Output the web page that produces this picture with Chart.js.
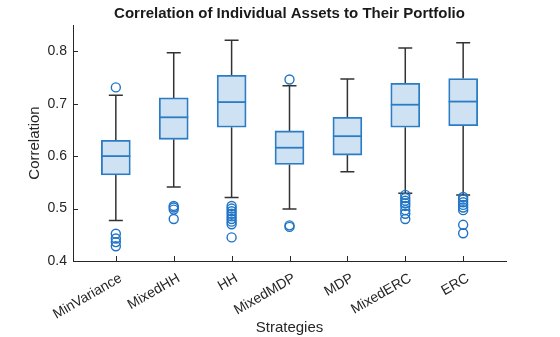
<!DOCTYPE html>
<html>
<head>
<meta charset="utf-8">
<script src="https://cdn.jsdelivr.net/npm/chart.js@4.4.1/dist/chart.umd.min.js"></script>
<style>
  html, body { margin: 0; padding: 0; background: #fff; }
</style>
</head>
<body>
<canvas id="boxChart" width="560" height="337"></canvas>
<script>
// ---------- DATA ----------
const strategies  = ["MinVariance", "MixedHH", "HH", "MixedMDP", "MDP", "MixedERC", "ERC"];
const whiskerLow  = [0.477, 0.541, 0.521, 0.499, 0.570, 0.529, 0.526];
const q1          = [0.564, 0.632, 0.655, 0.584, 0.602, 0.655, 0.658];
const medians     = [0.600, 0.674, 0.703, 0.616, 0.638, 0.698, 0.704];
const q3          = [0.630, 0.711, 0.754, 0.648, 0.674, 0.739, 0.748];
const whiskerHigh = [0.716, 0.797, 0.821, 0.734, 0.747, 0.806, 0.816];
const outliers = [
  [0.731, 0.452, 0.443, 0.436, 0.428],
  [0.505, 0.502, 0.498, 0.480],
  [0.505, 0.500, 0.495, 0.490, 0.485, 0.480, 0.475, 0.470, 0.445],
  [0.746, 0.468, 0.465],
  [],
  [0.526, 0.520, 0.515, 0.510, 0.505, 0.497, 0.490, 0.480],
  [0.522, 0.517, 0.512, 0.507, 0.502, 0.497, 0.469, 0.453]
];
const yTicks = [0.4, 0.5, 0.6, 0.7, 0.8];

const EDGE = "#2b7cc4";
const FILL = "#cfe2f3";
const WHISK = "#333333";
const AXIS = "#262626";
const FONT = "'Liberation Sans', Arial, sans-serif";

const boxData = strategies.map((_, i) => ({ x: i + 1, y: [q1[i], q3[i]] }));
const outlierData = [];
outliers.forEach((list, i) => {
  list.forEach(v => outlierData.push({ x: i + 1, y: v }));
});

// whiskers, caps, medians and inner ticks, placed through the chart scales
const boxExtras = {
  id: "boxExtras",
  beforeDatasetsDraw(chart) {
    const { ctx, scales: { x, y } } = chart;
    ctx.save();
    ctx.strokeStyle = WHISK;
    ctx.lineWidth = 1.5;
    strategies.forEach((_, i) => {
      const cx = x.getPixelForValue(i + 1);
      const half = 7;
      ctx.beginPath();
      ctx.moveTo(cx, y.getPixelForValue(q3[i]));
      ctx.lineTo(cx, y.getPixelForValue(whiskerHigh[i]));
      ctx.moveTo(cx, y.getPixelForValue(q1[i]));
      ctx.lineTo(cx, y.getPixelForValue(whiskerLow[i]));
      const yh = y.getPixelForValue(whiskerHigh[i]);
      const yl = y.getPixelForValue(whiskerLow[i]);
      ctx.moveTo(cx - half, yh); ctx.lineTo(cx + half, yh);
      ctx.moveTo(cx - half, yl); ctx.lineTo(cx + half, yl);
      ctx.stroke();
    });
    ctx.restore();
  },
  afterDatasetsDraw(chart) {
    const { ctx, scales: { x, y } } = chart;
    ctx.save();
    ctx.strokeStyle = EDGE;
    ctx.lineWidth = 1.8;
    strategies.forEach((_, i) => {
      const cx = x.getPixelForValue(i + 1);
      const ym = y.getPixelForValue(medians[i]);
      ctx.beginPath();
      ctx.moveTo(cx - 14.5, ym);
      ctx.lineTo(cx + 14.5, ym);
      ctx.stroke();
    });
    // inward tick marks
    ctx.strokeStyle = AXIS;
    ctx.lineWidth = 1;
    const left = chart.chartArea.left, bottom = chart.chartArea.bottom;
    yTicks.forEach(v => {
      const py = Math.round(y.getPixelForValue(v)) + 0.5;
      ctx.beginPath();
      ctx.moveTo(left, py); ctx.lineTo(left + 5, py);
      ctx.stroke();
    });
    strategies.forEach((_, i) => {
      const px = Math.round(x.getPixelForValue(i + 1)) + 0.5;
      ctx.beginPath();
      ctx.moveTo(px, bottom); ctx.lineTo(px, bottom - 5);
      ctx.stroke();
    });
    ctx.restore();
  }
};

new Chart(document.getElementById("boxChart"), {
  type: "bar",
  data: {
    datasets: [
      {
        type: "bar",
        data: boxData,
        backgroundColor: FILL,
        borderColor: EDGE,
        borderWidth: 1.8,
        borderSkipped: false,
        barThickness: 29,
        order: 2
      },
      {
        type: "scatter",
        data: outlierData,
        pointStyle: "circle",
        pointRadius: 4.5,
        pointBorderWidth: 1.4,
        pointBorderColor: "#1f74c6",
        pointBackgroundColor: "rgba(0,0,0,0)",
        order: 1
      }
    ]
  },
  options: {
    responsive: false,
    animation: false,
    layout: { padding: { left: 0, right: 54, top: 0, bottom: 0 } },
    plugins: {
      legend: { display: false },
      tooltip: { enabled: false },
      title: {
        display: true,
        fullSize: false,
        text: "Correlation of Individual Assets to Their Portfolio",
        color: "#1a1a1a",
        font: { family: FONT, size: 15, weight: "bold" },
        padding: { top: 5, bottom: 2 }
      }
    },
    scales: {
      x: {
        type: "linear",
        offset: false,
        min: 0.26,
        max: 7.74,
        afterBuildTicks: s => { s.ticks = strategies.map((_, i) => ({ value: i + 1 })); },
        afterFit: s => { s.height = 76; },
        grid: { display: true, drawOnChartArea: false, drawTicks: false, offset: false },
        border: { display: true, color: AXIS, width: 1 },
        ticks: {
          autoSkip: false,
          maxRotation: 30,
          minRotation: 30,
          padding: 9,
          labelOffset: 5,
          color: AXIS,
          font: { family: FONT, size: 14 },
          callback: v => strategies[v - 1]
        },
        title: {
          display: true,
          text: "Strategies",
          color: AXIS,
          font: { family: FONT, size: 15 },
          padding: { top: 0, bottom: 0 }
        }
      },
      y: {
        min: 0.4,
        max: 0.85,
        afterBuildTicks: s => { s.ticks = yTicks.map(v => ({ value: v })); },
        afterFit: s => { s.width = 73; },
        grid: { display: true, drawOnChartArea: false, drawTicks: false },
        border: { display: true, color: AXIS, width: 1 },
        ticks: {
          padding: 6,
          color: AXIS,
          font: { family: FONT, size: 14 },
          callback: v => v.toFixed(1)
        },
        title: {
          display: true,
          text: "Correlation",
          color: AXIS,
          font: { family: FONT, size: 15 },
          padding: { top: 26, bottom: 0 }
        }
      }
    }
  },
  plugins: [boxExtras]
});
</script>
</body>
</html>
